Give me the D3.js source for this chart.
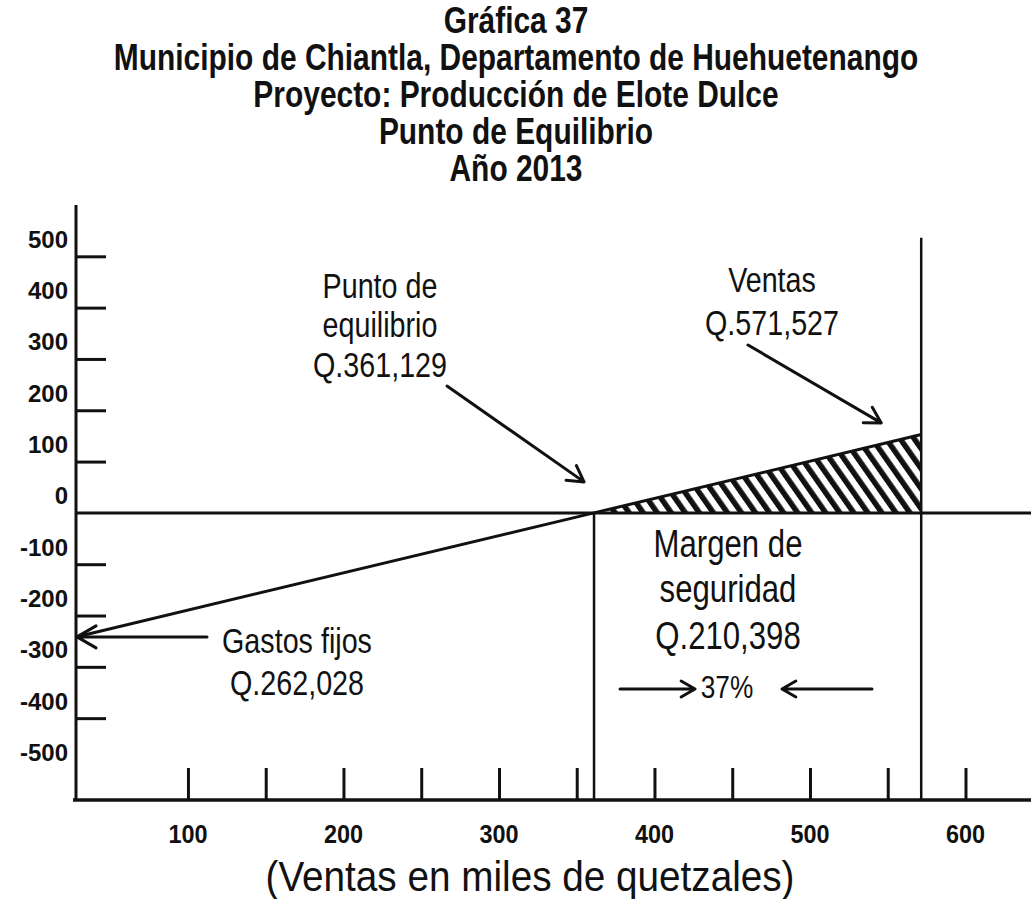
<!DOCTYPE html>
<html>
<head>
<meta charset="utf-8">
<script src="https://cdn.jsdelivr.net/npm/d3@7"></script>
<style>
  html, body { margin: 0; padding: 0; background: #fff; }
  svg { display: block; }
  text { font-family: "Liberation Sans", Arial, sans-serif; fill: #111; }
</style>
</head>
<body>
<div id="chart"></div>
<script>
// Title lines
const titleLines = [
  "Gráfica 37",
  "Municipio de Chiantla, Departamento de Huehuetenango",
  "Proyecto: Producción de Elote Dulce",
  "Punto de Equilibrio",
  "Año 2013"
];

// Key values (miles de quetzales)
const breakEvenSales = 361.129;
const totalSales = 571.527;
const fixedCosts = 262.028;
const safetyMargin = 210.398;
const safetyPercent = 37;

// Profit line: sales (x) vs result (y), in miles de quetzales
const profitSales = [28, 361.129, 571.527];
const profitValues = [-241.7, 0, 152.66];

// Axis ticks and labels
const yTickMarks = [500, 400, 300, 200, 100, -100, -200, -300, -400];
const yTickLabels = [500, 400, 300, 200, 100, 0, -100, -200, -300, -400, -500];
const xTickMarks = [100, 150, 200, 250, 300, 350, 400, 450, 500, 550, 600];
const xTickLabels = [100, 200, 300, 400, 500, 600];

const W = 1031, H = 899;
const NARROW = 0.82; // horizontal squeeze giving a condensed face
const svg = d3.select("#chart").append("svg").attr("width", W).attr("height", H);

const x = d3.scaleLinear().domain([28, 642]).range([76, 1030.8]);
const y = d3.scaleLinear().domain([-559.5, 600]).range([800, 205]);

// Condensed, centred text line
function narrowText(str, cx, by, size, bold) {
  return svg.append("text")
    .attr("transform", `translate(${cx},${by}) scale(${NARROW},1)`)
    .attr("text-anchor", "middle").attr("font-size", size)
    .attr("font-weight", bold ? "bold" : "normal")
    .text(str);
}

// Title
titleLines.forEach((t, i) => narrowText(t, 516, 33 + i * 37, 36.5, true));

// Hatch pattern for the safety-margin area
const defs = svg.append("defs");
const pat = defs.append("pattern")
  .attr("id", "hatch").attr("patternUnits", "userSpaceOnUse")
  .attr("width", 11.5).attr("height", 11.5)
  .attr("patternTransform", "rotate(-35)");
pat.append("rect").attr("width", 11.5).attr("height", 11.5).attr("fill", "#fff");
pat.append("rect").attr("x", 0).attr("y", 0).attr("width", 5.5).attr("height", 11.5).attr("fill", "#111");

const profitPts = profitSales.map((s, i) => [s, profitValues[i]]);
const area = [[breakEvenSales, 0], profitPts[2], [totalSales, 0]];
svg.append("path")
  .attr("d", d3.line().x(d => x(d[0])).y(d => y(d[1]))(area) + "Z")
  .attr("fill", "url(#hatch)");

// Profit line
svg.append("path")
  .attr("d", d3.line().x(d => x(d[0])).y(d => y(d[1]))(profitPts))
  .attr("fill", "none").attr("stroke", "#111").attr("stroke-width", 3);

// Zero line
svg.append("line")
  .attr("x1", x(28)).attr("x2", W).attr("y1", y(0)).attr("y2", y(0))
  .attr("stroke", "#111").attr("stroke-width", 3);

// Vertical lines at break-even and at sales
svg.append("line")
  .attr("x1", x(breakEvenSales)).attr("x2", x(breakEvenSales))
  .attr("y1", y(0)).attr("y2", y(-559.5))
  .attr("stroke", "#111").attr("stroke-width", 2.5);
svg.append("line")
  .attr("x1", x(totalSales)).attr("x2", x(totalSales))
  .attr("y1", y(536)).attr("y2", y(-559.5))
  .attr("stroke", "#111").attr("stroke-width", 2.5);

// Y axis
const yAxis = svg.append("g").attr("transform", `translate(${x(28)},0)`)
  .call(d3.axisRight(y).tickValues(yTickMarks).tickSize(30).tickFormat(""));
yAxis.select(".domain").remove();
yAxis.selectAll(".tick line").attr("stroke", "#111").attr("stroke-width", 3);
svg.append("line")
  .attr("x1", x(28)).attr("x2", x(28)).attr("y1", y(600)).attr("y2", y(-559.5))
  .attr("stroke", "#111").attr("stroke-width", 3);
svg.append("g").selectAll("text").data(yTickLabels).join("text")
  .attr("x", 68).attr("y", d => y(d) - 8.5)
  .attr("text-anchor", "end").attr("font-size", 24).attr("font-weight", "bold")
  .text(d => d);

// X axis
const xAxis = svg.append("g").attr("transform", `translate(0,${y(-559.5)})`)
  .call(d3.axisTop(x).tickValues(xTickMarks).tickSize(32).tickFormat(""));
xAxis.select(".domain").remove();
xAxis.selectAll(".tick line").attr("stroke", "#111").attr("stroke-width", 3);
svg.append("line")
  .attr("x1", x(28) - 3).attr("x2", W).attr("y1", y(-559.5)).attr("y2", y(-559.5))
  .attr("stroke", "#111").attr("stroke-width", 3.5);
svg.append("g").selectAll("text").data(xTickLabels).join("text")
  .attr("transform", d => `translate(${x(d)},843) scale(0.9,1)`)
  .attr("text-anchor", "middle").attr("font-size", 26).attr("font-weight", "bold")
  .text(d => d);

// X axis title
svg.append("text").attr("transform", "translate(530,891) scale(0.9,1)")
  .attr("text-anchor", "middle").attr("font-size", 43)
  .text("(Ventas en miles de quetzales)");

// Arrow with an open head
function arrow(x1, y1, x2, y2, head = 18) {
  const a = Math.atan2(y2 - y1, x2 - x1);
  const spread = Math.PI / 6;
  const p = d3.path();
  p.moveTo(x1, y1); p.lineTo(x2, y2);
  p.moveTo(x2 - head * Math.cos(a - spread), y2 - head * Math.sin(a - spread));
  p.lineTo(x2, y2);
  p.lineTo(x2 - head * Math.cos(a + spread), y2 - head * Math.sin(a + spread));
  svg.append("path").attr("d", p.toString())
    .attr("fill", "none").attr("stroke", "#111").attr("stroke-width", 3)
    .attr("stroke-linecap", "round").attr("stroke-linejoin", "round");
}
const fmt = v => "Q." + d3.format(",")(Math.round(v * 1000));
function block(lines, cx, baselines, size) {
  lines.forEach((t, i) => narrowText(t, cx, baselines[i], size, false));
}

// Break-even annotation
block(["Punto de", "equilibrio", fmt(breakEvenSales)], 380, [298, 337, 377], 35);
arrow(447, 386, x(breakEvenSales) - 10, y(0) - 31);

// Sales annotation
block(["Ventas", fmt(totalSales)], 772, [292, 335], 35);
arrow(748, 345, x(totalSales) - 40, y(0) - 90);

// Fixed costs annotation
block(["Gastos fijos", fmt(fixedCosts)], 297, [653, 695], 35);
arrow(207, y(profitValues[0]), x(28) + 1, y(profitValues[0]), 22);

// Safety margin annotation
block(["Margen de", "seguridad", fmt(safetyMargin)], 728, [557, 602, 649], 38);
narrowText(safetyPercent + "%", 727, 698, 32, false);
arrow(620, 689, 695, 689, 16);
arrow(872, 689, 782, 689, 16);
</script>
</body>
</html>
